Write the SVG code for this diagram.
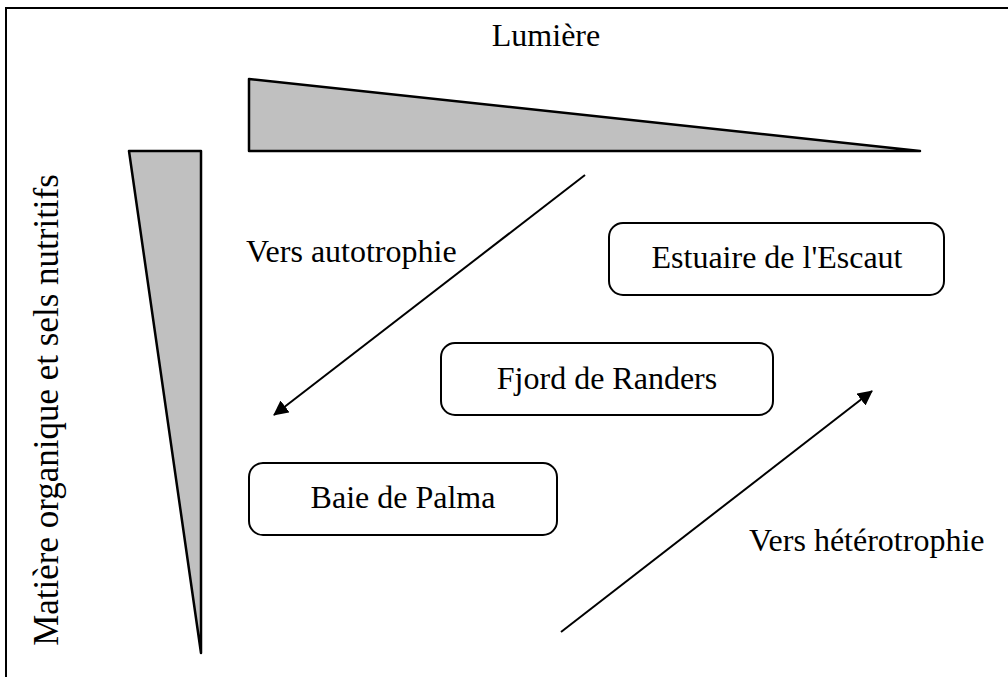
<svg xmlns="http://www.w3.org/2000/svg" width="1008" height="677" viewBox="0 0 1008 677">
<style>
text{font-family:"Liberation Serif","Times New Roman",serif;font-size:32px;fill:#000}
.tri{fill:#c0c0c0;stroke:#000;stroke-width:2.5;stroke-linejoin:round}
.box{fill:#fff;stroke:#000;stroke-width:2}
.arr{stroke:#000;stroke-width:2;fill:none;marker-end:url(#ah)}
</style>
<defs>
<marker id="ah" viewBox="0 0 15 15" refX="14" refY="7.5" markerWidth="15" markerHeight="15" markerUnits="userSpaceOnUse" orient="auto">
<path d="M0,0 L15,7.5 L0,15 z" fill="#000"/>
</marker>
</defs>
<rect x="6" y="8" width="1010" height="680" fill="#fff" stroke="#000" stroke-width="2"/>
<g id="lumiere">
<polygon class="tri" points="249,79 249,151 920,151"/>
<text x="546" y="46" text-anchor="middle">Lumière</text>
</g>
<g id="matiere">
<polygon class="tri" points="129,151 201,151 201,653"/>
<text transform="translate(58,410) rotate(-90)" text-anchor="middle" style="font-size:35px">Matière organique et sels nutritifs</text>
</g>
<g id="estuaire">
<rect class="box" x="609" y="223" width="335" height="72" rx="14"/>
<text x="777" y="268" text-anchor="middle">Estuaire de l'Escaut</text>
</g>
<g id="fjord">
<rect class="box" x="441" y="343" width="332" height="72" rx="14"/>
<text x="607" y="389" text-anchor="middle">Fjord de Randers</text>
</g>
<g id="baie">
<rect class="box" x="249" y="463" width="308" height="72" rx="14"/>
<text x="403" y="508" text-anchor="middle">Baie de Palma</text>
</g>
<g id="connectors">
<line class="arr" x1="585" y1="175" x2="274" y2="415"/>
<line class="arr" x1="561" y1="632" x2="872" y2="391"/>
</g>
<text x="246" y="262">Vers autotrophie</text>
<text x="749" y="551">Vers hétérotrophie</text>
</svg>
